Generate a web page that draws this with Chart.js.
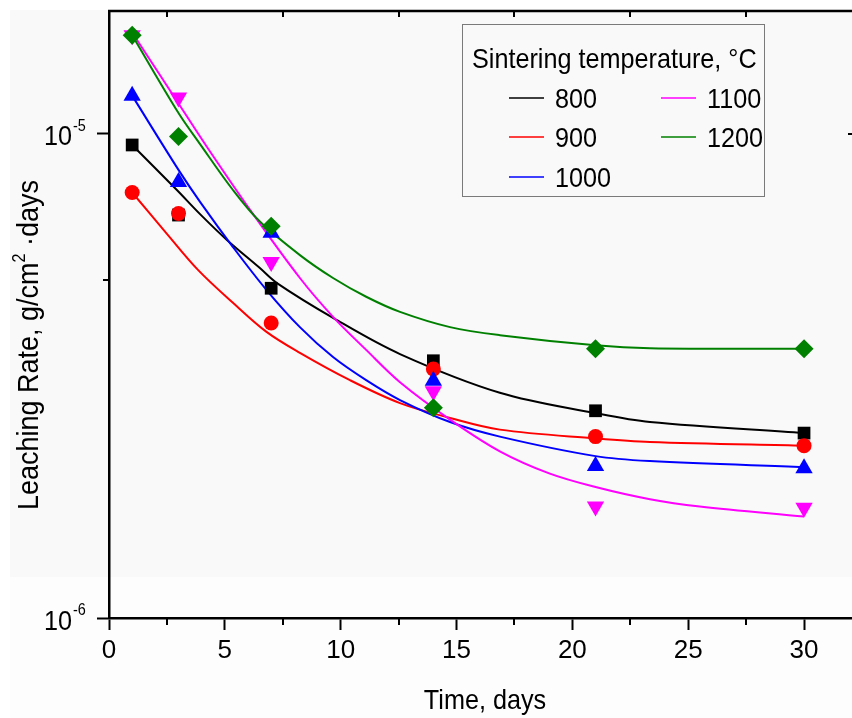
<!DOCTYPE html>
<html lang="en">
<head>
<meta charset="UTF-8">
<title>Leaching Rate vs Time</title>
<script src="https://cdn.jsdelivr.net/npm/chart.js@4"></script>
<style>
  html, body { margin: 0; padding: 0; background: #fff; }
</style>
</head>
<body>
<canvas id="leachChart" width="852" height="718"></canvas>
<script>
// sintering temperature, degC
const seriesLabels = ['800', '900', '1000', '1100', '1200'];
const seriesColors = ['#000000', '#ff0000', '#0000ff', '#ff00ff', '#008000'];
const seriesMarkers = ['rect', 'circle', 'triangle', 'triangle', 'rectRot'];

// measured points
const days = [1, 3, 7, 14, 21, 30];
const rate800  = [9.49e-6, 6.80e-6, 4.80e-6, 3.40e-6, 2.68e-6, 2.41e-6];
const rate900  = [7.57e-6, 6.85e-6, 4.07e-6, 3.27e-6, 2.37e-6, 2.27e-6];
const rate1000 = [1.20e-5, 7.96e-6, 6.25e-6, 3.09e-6, 2.06e-6, 2.04e-6];
const rate1100 = [1.60e-5, 1.19e-5, 5.44e-6, 2.94e-6, 1.70e-6, 1.69e-6];
const rate1200 = [1.60e-5, 9.88e-6, 6.45e-6, 2.72e-6, 3.60e-6, 3.60e-6];

// fitted curves
const fit800Days  = [1, 2.93, 3.93, 5.09, 6.5, 7.25, 9.67, 12.56, 16.87, 21, 23.35, 30];
const fit800Rate  = [9.49e-6, 7.66e-6, 6.83e-6, 6.04e-6, 5.29e-6, 4.92e-6, 4.17e-6, 3.51e-6, 2.92e-6, 2.65e-6, 2.54e-6, 2.41e-6];
const fit900Days  = [1, 2.5, 3.84, 5.35, 6.8, 8.24, 10.4, 12.56, 14.72, 16.87, 21, 23.35, 30];
const fit900Rate  = [7.57e-6, 6.22e-6, 5.24e-6, 4.48e-6, 3.90e-6, 3.53e-6, 3.10e-6, 2.78e-6, 2.59e-6, 2.45e-6, 2.35e-6, 2.31e-6, 2.27e-6];
const fit1000Days = [1, 3, 3.93, 5.35, 6.8, 8.24, 9.67, 11.1, 12.56, 14.72, 16.87, 21, 23.35, 30];
const fit1000Rate = [1.20e-5, 8.43e-6, 7.24e-6, 5.84e-6, 4.76e-6, 3.99e-6, 3.46e-6, 3.10e-6, 2.82e-6, 2.54e-6, 2.37e-6, 2.16e-6, 2.11e-6, 2.05e-6];
const fit1100Days = [1, 2.93, 4.23, 6.09, 8.24, 9.67, 11.1, 12.56, 14.72, 16.87, 19, 21, 23.35, 25.5, 30];
const fit1100Rate = [1.62e-5, 1.17e-5, 9.40e-6, 6.97e-6, 5.04e-6, 4.19e-6, 3.58e-6, 3.07e-6, 2.57e-6, 2.21e-6, 1.99e-6, 1.865e-6, 1.76e-6, 1.70e-6, 1.62e-6];
const fit1200Days = [1, 3, 3.93, 5.35, 6.5, 8.24, 9.67, 11.1, 12.56, 14.72, 16.87, 21, 23.35, 30];
const fit1200Rate = [1.60e-5, 1.105e-5, 9.53e-6, 7.66e-6, 6.60e-6, 5.62e-6, 5.04e-6, 4.61e-6, 4.29e-6, 3.99e-6, 3.84e-6, 3.66e-6, 3.61e-6, 3.60e-6];

// axes
const xTickValues = [0, 5, 10, 15, 20, 25, 30];
const xMinorValues = [2.5, 7.5, 12.5, 17.5, 22.5, 27.5];
const yTickValues = [1e-6, 1e-5];
const yMinorValues = [5e-6];

const pointSets = [rate800, rate900, rate1000, rate1100, rate1200];
const fitDays = [fit800Days, fit900Days, fit1000Days, fit1100Days, fit1200Days];
const fitRates = [fit800Rate, fit900Rate, fit1000Rate, fit1100Rate, fit1200Rate];

const FONT = '"Liberation Sans", Arial, sans-serif';
const SX = 0.9; // the figure uses a slightly condensed face

function putText(ctx, str, x, y, size, align) {
    ctx.save();
    ctx.font = size + 'px ' + FONT;
    ctx.textBaseline = 'alphabetic';
    ctx.textAlign = 'left';
    const w = ctx.measureText(str).width * SX;
    let left = x;
    if (align === 'center') left = x - w / 2;
    if (align === 'right') left = x - w;
    ctx.translate(left, y);
    ctx.scale(SX, 1);
    ctx.fillStyle = '#000';
    ctx.fillText(str, 0, 0);
    ctx.restore();
    return w;
}

function textWidth(ctx, str, size) {
    ctx.save();
    ctx.font = size + 'px ' + FONT;
    const w = ctx.measureText(str).width * SX;
    ctx.restore();
    return w;
}

const decorPlugin = {
    id: 'decor',
    beforeDraw(chart) {
        const ctx = chart.ctx;
        ctx.save();
        ctx.fillStyle = '#ffffff';
        ctx.fillRect(0, 0, chart.width, chart.height);
        ctx.fillStyle = '#f9f9f9';
        ctx.fillRect(10, 10, chart.width - 10, 567);
        ctx.fillStyle = '#fdfdfd';
        ctx.fillRect(10, 577, chart.width - 10, chart.height - 577);
        ctx.restore();
    },
    afterDraw(chart) {
        const ctx = chart.ctx;
        const area = chart.chartArea;
        const xs = chart.scales.x;
        const ys = chart.scales.y;

        ctx.save();
        ctx.strokeStyle = '#000';
        ctx.lineWidth = 2.5;
        ctx.beginPath();
        ctx.moveTo(area.left - 1, area.top);
        ctx.lineTo(area.right, area.top);
        ctx.stroke();

        ctx.lineWidth = 2;
        ctx.beginPath();
        xMinorValues.forEach(v => {
            const px = Math.round(xs.getPixelForValue(v));
            ctx.moveTo(px, area.top);
            ctx.lineTo(px, area.top + 6);
            ctx.moveTo(px, area.bottom);
            ctx.lineTo(px, area.bottom + 7);
        });
        yMinorValues.forEach(v => {
            const py = Math.round(ys.getPixelForValue(v));
            ctx.moveTo(area.left - 6, py);
            ctx.lineTo(area.left, py);
        });
        yTickValues.forEach(v => {
            const py = Math.round(ys.getPixelForValue(v));
            ctx.moveTo(area.right - 4, py);
            ctx.lineTo(area.right, py);
        });
        ctx.stroke();
        ctx.restore();

        // y tick labels as 10 with superscript exponent
        yTickValues.forEach(v => {
            const py = ys.getPixelForValue(v);
            const exp = Math.round(Math.log10(v));
            putText(ctx, '10', 72, py + 11.5, 28, 'right');
            putText(ctx, String(exp), 73, py - 3, 16, 'left');
        });

        // axis titles
        putText(ctx, 'Time, days', 485, 709, 28, 'center');

        const yParts = [['Leaching Rate, g/cm', 30, 0], ['2', 18, -13], [' \u00b7days', 30, 0]];
        let total = 0;
        yParts.forEach(p => { total += textWidth(ctx, p[0], p[1]); });
        ctx.save();
        ctx.translate(38, 345);
        ctx.rotate(-Math.PI / 2);
        let cx = -total / 2;
        yParts.forEach(p => {
            cx += putText(ctx, p[0], cx, p[2], p[1], 'left');
        });
        ctx.restore();

        // legend
        ctx.save();
        ctx.strokeStyle = '#7a7a7a';
        ctx.lineWidth = 1;
        ctx.strokeRect(462.5, 24.5, 302, 172);
        ctx.restore();
        putText(ctx, 'Sintering temperature, \u00b0C', 472, 68, 28, 'left');
        const colLine = [509, 661];
        const colText = [555, 707];
        const rowY = [98, 137, 177];
        seriesLabels.forEach((lab, i) => {
            const col = i < 3 ? 0 : 1;
            const row = i < 3 ? i : i - 3;
            ctx.save();
            ctx.strokeStyle = seriesColors[i];
            ctx.lineWidth = 1.5;
            ctx.beginPath();
            ctx.moveTo(colLine[col], rowY[row]);
            ctx.lineTo(colLine[col] + 35, rowY[row]);
            ctx.stroke();
            ctx.restore();
            putText(ctx, lab, colText[col], rowY[row] + 10, 28, 'left');
        });
    }
};

const datasets = [];
seriesLabels.forEach((lab, i) => {
    datasets.push({
        label: lab + ' fit',
        data: fitDays[i].map((d, k) => ({ x: d, y: fitRates[i][k] })),
        showLine: true,
        borderColor: seriesColors[i],
        borderWidth: 2,
        pointRadius: 0,
        tension: 0.35,
        fill: false,
        order: 20 - i
    });
});
const markerRadius = [9, 7.5, 10, 10, 9.5];
seriesLabels.forEach((lab, i) => {
    datasets.push({
        label: lab,
        data: days.map((d, k) => ({ x: d, y: pointSets[i][k] })),
        showLine: false,
        pointStyle: seriesMarkers[i],
        pointRotation: i === 3 ? 180 : 0,
        pointRadius: markerRadius[i],
        pointBackgroundColor: seriesColors[i],
        pointBorderWidth: 0,
        borderColor: seriesColors[i],
        order: 10 - i
    });
});

const axisGrid = {
    drawOnChartArea: false,
    drawTicks: true,
    tickLength: 12,
    tickWidth: 2,
    tickColor: '#000'
};

new Chart(document.getElementById('leachChart').getContext('2d'), {
    type: 'scatter',
    data: { datasets: datasets },
    options: {
        responsive: false,
        animation: false,
        devicePixelRatio: 1,
        layout: { autoPadding: false, padding: { top: 11, left: 0, right: 0, bottom: 0 } },
        plugins: {
            legend: { display: false },
            tooltip: { enabled: false }
        },
        scales: {
            x: {
                type: 'linear',
                position: 'bottom',
                min: 0,
                max: 32.07,
                afterBuildTicks: (scale) => { scale.ticks = xTickValues.map(v => ({ value: v })); },
                afterFit: (scale) => {
                    scale.height = 100;
                    scale.paddingLeft = 0;
                    scale.paddingRight = 0;
                },
                grid: axisGrid,
                border: { display: true, color: '#000', width: 2.5 },
                ticks: {
                    color: '#000',
                    font: { family: FONT, size: 26 },
                    padding: 5,
                    maxRotation: 0,
                    autoSkip: false
                }
            },
            y: {
                type: 'logarithmic',
                position: 'left',
                min: 1e-6,
                max: 1.795e-5,
                afterBuildTicks: (scale) => { scale.ticks = yTickValues.map(v => ({ value: v })); },
                afterFit: (scale) => {
                    scale.width = 109;
                    scale.paddingTop = 0;
                    scale.paddingBottom = 0;
                },
                grid: axisGrid,
                border: { display: true, color: '#000', width: 2.5 },
                ticks: { display: false }
            }
        }
    },
    plugins: [decorPlugin]
});
</script>
</body>
</html>
